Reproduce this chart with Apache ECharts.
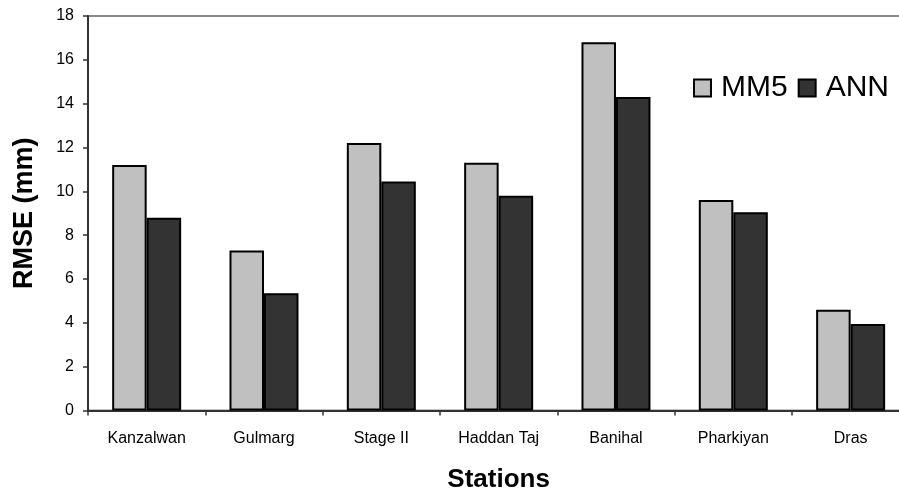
<!DOCTYPE html>
<html>
<head>
<meta charset="utf-8">
<script src="https://cdn.jsdelivr.net/npm/echarts@6/dist/echarts.min.js"></script>
<style>
html,body{margin:0;padding:0;background:#fff;overflow:hidden;width:899px;height:491px;}
#chart{width:910px;height:491px;}
</style>
</head>
<body>
<div id="chart"></div>
<script>
const categories = ['Kanzalwan', 'Gulmarg', 'Stage II', 'Haddan Taj', 'Banihal', 'Pharkiyan', 'Dras'];
const mm5 = [11.2, 7.3, 12.2, 11.3, 16.8, 9.6, 4.6];
const ann = [8.8, 5.35, 10.45, 9.8, 14.3, 9.05, 3.95];
const yTicks = [0, 2, 4, 6, 8, 10, 12, 14, 16, 18];

const chart = echarts.init(document.getElementById('chart'), null, {renderer: 'canvas'});
const font = 'Liberation Sans, Arial, sans-serif';
chart.setOption({
  animation: false,
  backgroundColor: '#ffffff',
  textStyle: {fontFamily: font},
  grid: {left: 88, top: 16, width: 821.3, height: 394.5, show: true, borderColor: '#8a8a8a', borderWidth: 2, containLabel: false, outerBoundsMode: 'none'},
  legend: {
    orient: 'horizontal',
    left: 688, top: 68, width: 220,
    itemWidth: 17, itemHeight: 17, itemGap: 10,
    icon: 'rect',
    textStyle: {fontSize: 30, color: '#000', fontFamily: font, padding: [0, 0, 0, 5]},
    data: ['MM5', 'ANN']
  },
  xAxis: {
    type: 'category',
    data: categories,
    name: 'Stations',
    nameLocation: 'middle',
    nameGap: 56,
    nameTextStyle: {fontSize: 26, fontWeight: 'bold', color: '#000', fontFamily: font},
    axisLine: {show: true, lineStyle: {color: '#333', width: 2}},
    axisTick: {show: true, length: 5, lineStyle: {color: '#333', width: 1.5}},
    axisLabel: {fontSize: 16, color: '#000', margin: 20, fontFamily: font, interval: 0},
    splitLine: {show: false}
  },
  yAxis: {
    type: 'value',
    min: yTicks[0],
    max: yTicks[yTicks.length - 1],
    interval: 2,
    name: 'RMSE (mm)',
    nameLocation: 'middle',
    nameGap: 50,
    nameTextStyle: {fontSize: 27, fontWeight: 'bold', color: '#000', fontFamily: font},
    axisLine: {show: true, lineStyle: {color: '#333', width: 2}},
    axisTick: {show: true, length: 5, lineStyle: {color: '#333', width: 1.5}},
    axisLabel: {fontSize: 16, color: '#000', margin: 14, fontFamily: font},
    splitLine: {show: false}
  },
  series: [
    {
      name: 'MM5', type: 'bar', data: mm5, barWidth: 34.5, barGap: '0%',
      itemStyle: {color: '#c0c0c0', borderColor: '#000', borderWidth: 2}
    },
    {
      name: 'ANN', type: 'bar', data: ann, barWidth: 34.5, barGap: '0%',
      itemStyle: {color: '#333333', borderColor: '#000', borderWidth: 2}
    }
  ]
});
</script>
</body>
</html>
